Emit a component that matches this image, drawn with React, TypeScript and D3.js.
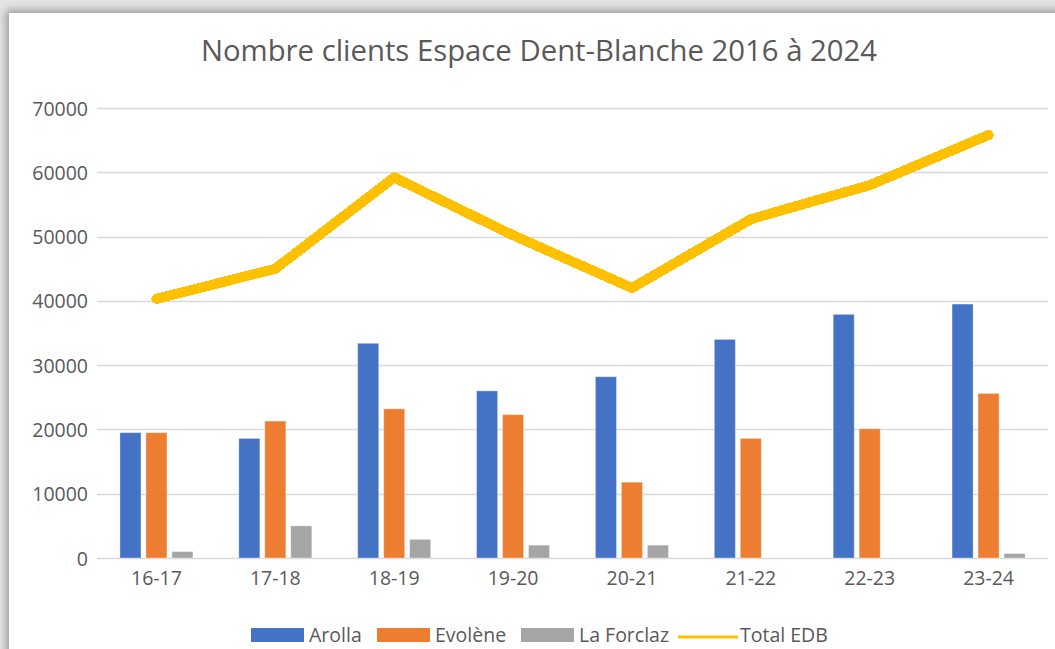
import React, { useEffect, useRef } from "react";
import * as d3 from "d3";

// saisons
const seasons = ["16-17", "17-18", "18-19", "19-20", "20-21", "21-22", "22-23", "23-24"];

// clients par station
const arolla = [19500, 18600, 33400, 26000, 28200, 34000, 37900, 39500];
const evolene = [19500, 21300, 23200, 22300, 11800, 18600, 20100, 25600];
const laForclaz = [1000, 5000, 2900, 2000, 2000, 0, 0, 700];
const totalEdb = [40300, 45000, 59200, 50200, 42000, 52700, 58000, 65800];

const yTicks = [0, 10000, 20000, 30000, 40000, 50000, 60000, 70000];

const barSeries = [
  { name: "Arolla", color: "#4472C4", values: arolla },
  { name: "Evolène", color: "#ED7D31", values: evolene },
  { name: "La Forclaz", color: "#A5A5A5", values: laForclaz },
];

const FONT = "'Open Sans', sans-serif";
const TEXT = "#595959";

export default function App() {
  const svgRef = useRef<SVGSVGElement | null>(null);

  useEffect(() => {
    if (!svgRef.current) return;
    const width = 1055;
    const height = 649;
    const svg = d3.select(svgRef.current);
    svg.selectAll("*").remove();
    svg.attr("width", width).attr("height", height);

    // fond gris + ombre du cadre
    const defs = svg.append("defs");
    const f = defs.append("filter").attr("id", "shadow").attr("x", "-5%").attr("y", "-5%").attr("width", "110%").attr("height", "110%");
    f.append("feGaussianBlur").attr("in", "SourceGraphic").attr("stdDeviation", 4);

    svg.append("rect").attr("width", width).attr("height", height).attr("fill", "#e4e4e4");
    svg.append("rect").attr("x", 6).attr("y", 10).attr("width", width + 20).attr("height", height + 20)
      .attr("fill", "#9a9a9a").attr("filter", "url(#shadow)");
    svg.append("rect").attr("x", 9).attr("y", 13).attr("width", width).attr("height", height).attr("fill", "#ffffff");

    const left = 97, right = 1048, top = 108, bottom = 558;

    const x = d3.scaleBand<string>().domain(seasons).range([left, right]).padding(0);
    const y = d3.scaleLinear().domain([0, 70000]).range([bottom, top]);
    const xSub = d3.scaleBand<string>()
      .domain(barSeries.map((s) => s.name))
      .range([-36.5, 36.5])
      .paddingInner(0.19)
      .paddingOuter(0);

    // titre
    svg.append("text")
      .attr("x", 539).attr("y", 61)
      .attr("text-anchor", "middle")
      .attr("fill", TEXT)
      .style("font-family", FONT)
      .style("font-size", "29.3px")
      .text("Nombre clients Espace Dent-Blanche 2016 à 2024");

    // grille
    svg.append("g").selectAll("line").data(yTicks).enter().append("line")
      .attr("x1", left).attr("x2", right)
      .attr("y1", (d) => Math.round(y(d)) + 0.5).attr("y2", (d) => Math.round(y(d)) + 0.5)
      .attr("stroke", "#d9d9d9").attr("stroke-width", 1.5);

    svg.append("g").selectAll("text").data(yTicks).enter().append("text")
      .attr("x", 88).attr("y", (d) => y(d) + 7.5)
      .attr("text-anchor", "end")
      .attr("fill", TEXT)
      .style("font-family", FONT)
      .style("font-size", "19.5px")
      .text((d) => String(d));

    // barres
    barSeries.forEach((s) => {
      svg.append("g").selectAll("rect").data(s.values).enter().append("rect")
        .attr("x", (_, i) => (x(seasons[i]) ?? 0) + x.bandwidth() / 2 + (xSub(s.name) ?? 0))
        .attr("y", (d) => y(d))
        .attr("width", xSub.bandwidth())
        .attr("height", (d) => bottom - y(d))
        .attr("fill", s.color)
        .attr("stroke", "#ffffff")
        .attr("stroke-opacity", 0.35)
        .attr("stroke-width", 1);
    });

    // ligne total
    const line = d3.line<number>()
      .x((_, i) => (x(seasons[i]) ?? 0) + x.bandwidth() / 2)
      .y((d) => y(d));
    svg.append("path")
      .datum(totalEdb)
      .attr("d", line)
      .attr("fill", "none")
      .attr("stroke", "#FFC000")
      .attr("stroke-width", 10)
      .attr("stroke-linecap", "round")
      .attr("stroke-linejoin", "round")
      .style("shape-rendering", "crispEdges");

    // axe x
    svg.append("g").selectAll("text").data(seasons).enter().append("text")
      .attr("x", (d) => (x(d) ?? 0) + x.bandwidth() / 2)
      .attr("y", 585)
      .attr("text-anchor", "middle")
      .attr("fill", TEXT)
      .style("font-family", FONT)
      .style("font-size", "19.5px")
      .text((d) => d);

    // légende
    const legend = [
      { name: "Arolla", color: "#4472C4", kind: "bar", x: 251 },
      { name: "Evolène", color: "#ED7D31", kind: "bar", x: 377 },
      { name: "La Forclaz", color: "#A5A5A5", kind: "bar", x: 521 },
      { name: "Total EDB", color: "#FFC000", kind: "line", x: 678 },
    ];
    const lg = svg.append("g");
    legend.forEach((l) => {
      if (l.kind === "bar") {
        lg.append("rect").attr("x", l.x).attr("y", 628).attr("width", 53).attr("height", 14).attr("fill", l.color);
      } else {
        lg.append("line").attr("x1", l.x).attr("x2", l.x + 60).attr("y1", 637).attr("y2", 637)
          .attr("stroke", l.color).attr("stroke-width", 3);
      }
      lg.append("text")
        .attr("x", l.kind === "bar" ? l.x + 58 : l.x + 62)
        .attr("y", 642)
        .attr("fill", TEXT)
        .style("font-family", FONT)
        .style("font-size", "19.5px")
        .text(l.name);
    });
  }, []);

  return (
    <div style={{ position: "fixed", left: 0, top: 0, width: 1055, height: 649, overflow: "hidden", background: "#fff" }}>
      <svg ref={svgRef} style={{ display: "block" }}></svg>
    </div>
  );
}
